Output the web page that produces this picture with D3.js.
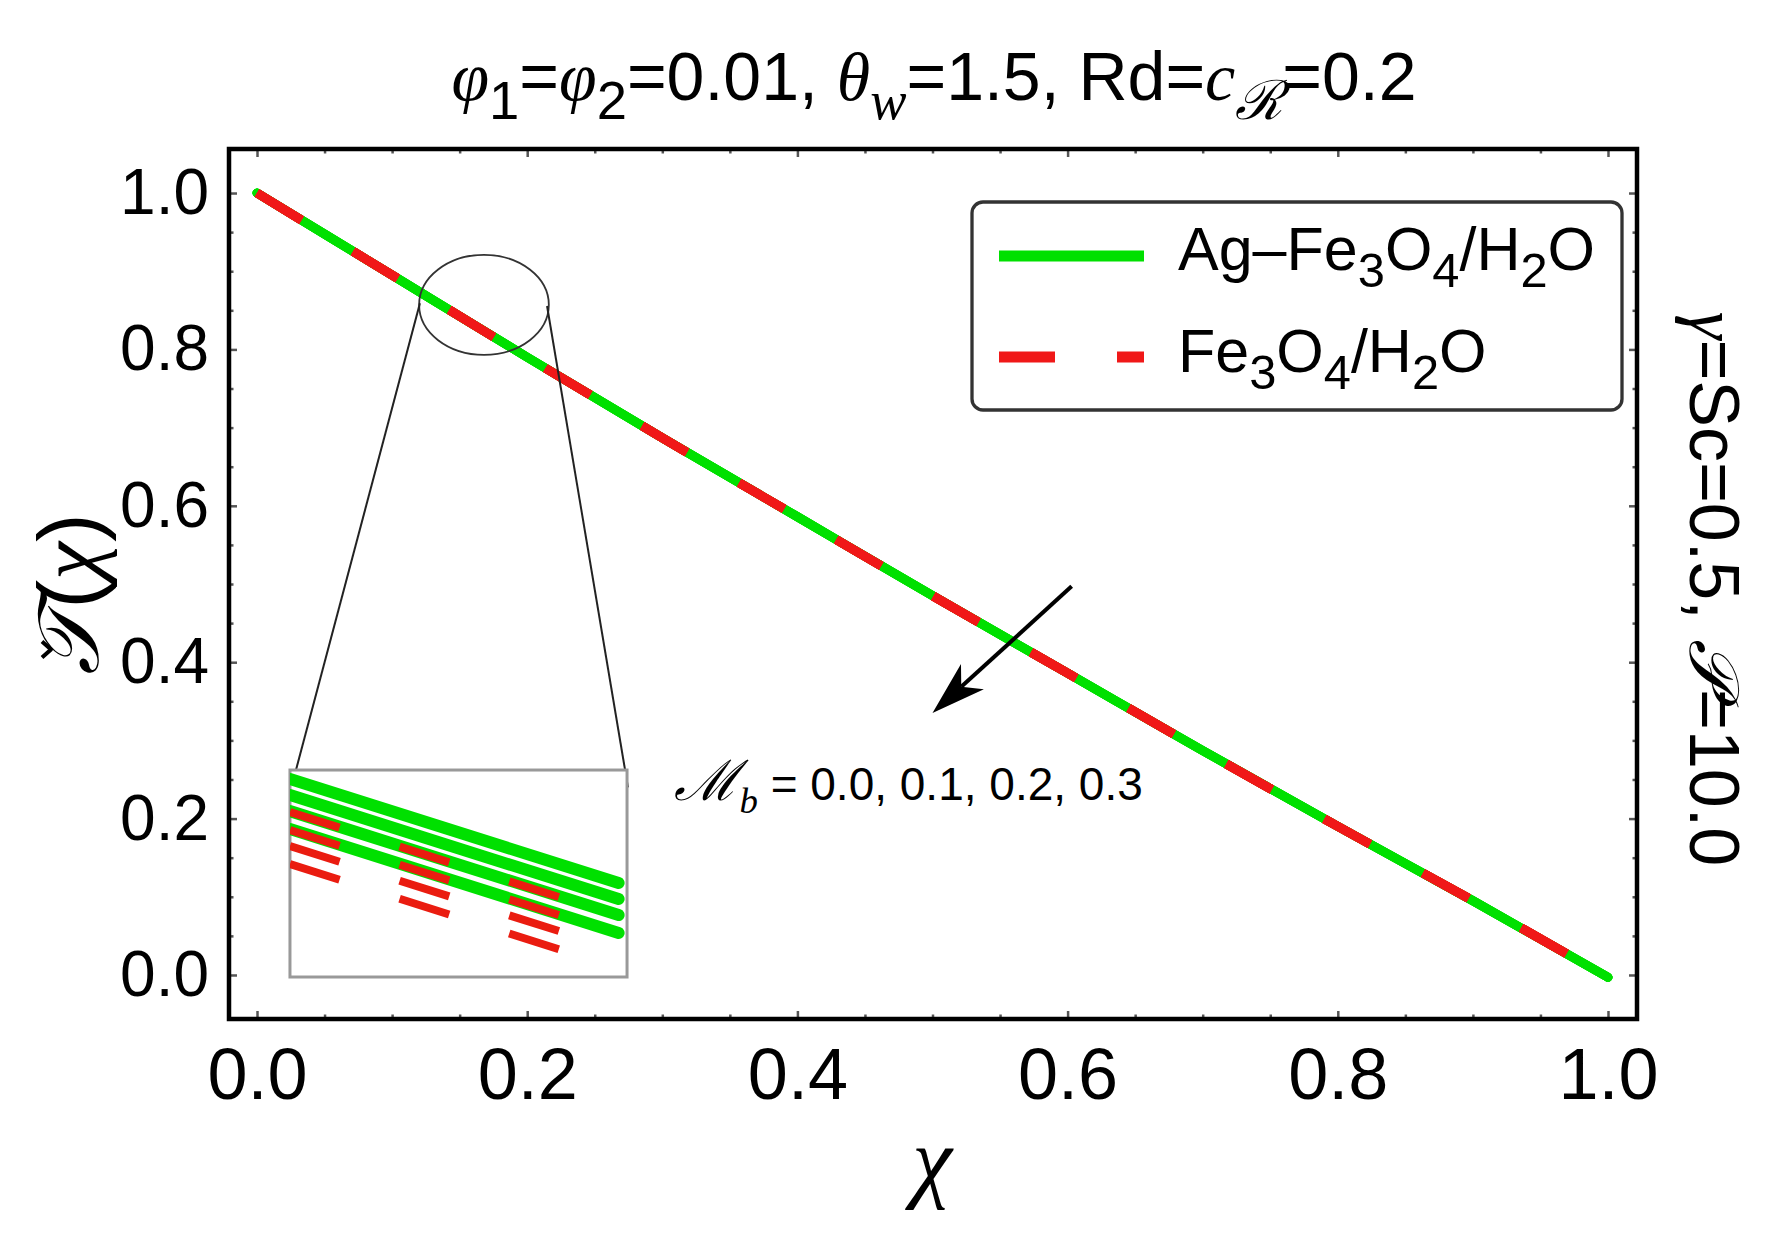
<!DOCTYPE html>
<html>
<head>
<meta charset="utf-8">
<script src="https://cdn.jsdelivr.net/npm/d3@7"></script>
<style>
  body { margin: 0; background: #fff; }
  svg text { font-family: "Liberation Sans", Arial, sans-serif; fill: #000; }
  .it { font-family: "Liberation Serif", "DejaVu Serif", serif; font-style: italic; }
</style>
</head>
<body>
<div id="chart"></div>
<script>
// ---- data ----
// all four M_b curves coincide at the scale of the main plot
const chi = [0, 0.1, 0.2, 0.3, 0.4, 0.5, 0.6, 0.7, 0.8, 0.9, 1.0];
const tempAgFe = [1.000, 0.895, 0.790, 0.687, 0.586, 0.485, 0.386, 0.287, 0.190, 0.095, -0.003];
const tempFe   = [1.000, 0.895, 0.790, 0.687, 0.586, 0.485, 0.386, 0.287, 0.190, 0.095, -0.003];
const mbValues = ["0.0", "0.1", "0.2", "0.3"];

// zoomed inset (one line per M_b value)
const insetChi = [0.14, 0.1985];
const insetAgFe = [[0.8648, 0.8045], [0.8555, 0.7952], [0.8462, 0.7859], [0.8358, 0.7755]];
const insetFe   = [[0.8457, 0.7854], [0.8352, 0.7750], [0.8259, 0.7657], [0.8155, 0.7551]];

const xMajor = [0, 0.2, 0.4, 0.6, 0.8, 1.0];
const yMajor = [0, 0.2, 0.4, 0.6, 0.8, 1.0];
const minorTicks = d3.range(0, 1.0001, 0.05).filter(v => Math.abs(v * 5 - Math.round(v * 5)) > 1e-6);

// ---- layout ----
const W = 1792, H = 1249;
const plot = { left: 229, right: 1637, top: 149, bottom: 1019 };
const GREEN = "#00e000", RED = "#f01818";
const FS = 61;

const x = d3.scaleLinear().domain([-0.02073, 1.02147]).range([plot.left, plot.right]);
const y = d3.scaleLinear().domain([-0.0563, 1.0563]).range([plot.bottom, plot.top]);

const svg = d3.select("#chart").append("svg")
    .attr("width", W).attr("height", H);

svg.append("defs").append("clipPath").attr("id", "clip")
  .append("rect")
    .attr("x", plot.left).attr("y", plot.top)
    .attr("width", plot.right - plot.left).attr("height", plot.bottom - plot.top);

// text with sub-scripts; parts = [{t, sub, it}]
function rich(sel, parts, size) {
    let shift = 0;
    parts.forEach(p => {
        const target = p.sub ? size * 0.28 : 0;
        const ts = sel.append("tspan").text(p.t).attr("dy", target - shift);
        shift = target;
        if (p.sub) ts.attr("font-size", size * 0.8);
        if (p.it) ts.attr("class", "it");
    });
}

// ---- ticks (inside, on all four sides) ----
const fmt = d3.format(".1f");
function styleAxis(size) {
    return g => {
        g.select(".domain").remove();
        g.attr("font-family", null).attr("font-size", size);
        g.selectAll(".tick line").attr("stroke", "#555").attr("stroke-width", 2.5);
        g.selectAll(".tick text").attr("fill", "#000");
    };
}

svg.append("g").attr("transform", `translate(0,${plot.bottom})`)
    .call(d3.axisBottom(x).tickValues(xMajor).tickSize(-8).tickPadding(29).tickFormat(fmt)).call(styleAxis(72));
svg.append("g").attr("transform", `translate(0,${plot.bottom})`)
    .call(d3.axisBottom(x).tickValues(minorTicks).tickSize(-4.5).tickFormat("")).call(styleAxis(72));
svg.append("g").attr("transform", `translate(0,${plot.top})`)
    .call(d3.axisTop(x).tickValues(xMajor).tickSize(-8).tickFormat("")).call(styleAxis(72));
svg.append("g").attr("transform", `translate(0,${plot.top})`)
    .call(d3.axisTop(x).tickValues(minorTicks).tickSize(-4.5).tickFormat("")).call(styleAxis(72));

svg.append("g").attr("transform", `translate(${plot.left},0)`)
    .call(d3.axisLeft(y).tickValues(yMajor).tickSize(-8).tickPadding(20).tickFormat(fmt)).call(styleAxis(64));
svg.append("g").attr("transform", `translate(${plot.left},0)`)
    .call(d3.axisLeft(y).tickValues(minorTicks).tickSize(-4.5).tickFormat("")).call(styleAxis(64));
svg.append("g").attr("transform", `translate(${plot.right},0)`)
    .call(d3.axisRight(y).tickValues(yMajor).tickSize(-8).tickFormat("")).call(styleAxis(64));
svg.append("g").attr("transform", `translate(${plot.right},0)`)
    .call(d3.axisRight(y).tickValues(minorTicks).tickSize(-4.5).tickFormat("")).call(styleAxis(64));

// ---- main curves ----
const line = d3.line().x(d => x(d[0])).y(d => y(d[1])).curve(d3.curveMonotoneX);
const curves = svg.append("g").attr("clip-path", "url(#clip)");

mbValues.forEach(() => {
    curves.append("path")
        .attr("d", line(d3.zip(chi, tempAgFe)))
        .attr("fill", "none").attr("stroke", GREEN)
        .attr("stroke-width", 9).attr("stroke-linecap", "round");
});
mbValues.forEach(() => {
    curves.append("path")
        .attr("d", line(d3.zip(chi, tempFe)))
        .attr("fill", "none").attr("stroke", RED)
        .attr("stroke-width", 9).attr("stroke-dasharray", "52,60.5");
});

// ---- callout ellipse + inset ----
const lens = { cx: 0.168, cy: 0.857, rx: 0.048, ry: 0.064 };
const box = { x0: 0.0244, x1: 0.2739, y0: -0.0026, y1: 0.2621 };

svg.append("ellipse")
    .attr("cx", x(lens.cx)).attr("cy", y(lens.cy))
    .attr("rx", x(lens.cx + lens.rx) - x(lens.cx))
    .attr("ry", y(lens.cy) - y(lens.cy + lens.ry))
    .attr("fill", "none").attr("stroke", "#333").attr("stroke-width", 1.8);

const calloutLines = [
    [[0.1206, 0.859], [0.0259, 0.243]],
    [[0.2147, 0.8555], [0.2746, 0.240]]
];
calloutLines.forEach(seg => {
    svg.append("line")
        .attr("x1", x(seg[0][0])).attr("y1", y(seg[0][1]))
        .attr("x2", x(seg[1][0])).attr("y2", y(seg[1][1]))
        .attr("stroke", "#222").attr("stroke-width", 2);
});

const ix = d3.scaleLinear().domain([0.14, 0.20]).range([x(box.x0), x(box.x1)]);
const iy = d3.scaleLinear().domain([0.75, 0.87]).range([y(box.y0), y(box.y1)]);

svg.append("defs").append("clipPath").attr("id", "clipInset")
  .append("rect")
    .attr("x", x(box.x0)).attr("y", y(box.y1))
    .attr("width", x(box.x1) - x(box.x0)).attr("height", y(box.y0) - y(box.y1));

svg.append("rect")
    .attr("x", x(box.x0)).attr("y", y(box.y1))
    .attr("width", x(box.x1) - x(box.x0)).attr("height", y(box.y0) - y(box.y1))
    .attr("fill", "#fff").attr("stroke", "#999").attr("stroke-width", 3);

const iline = d3.line().x(d => ix(d[0])).y(d => iy(d[1]));
const inset = svg.append("g").attr("clip-path", "url(#clipInset)");
insetAgFe.forEach(vals => {
    inset.append("path")
        .attr("d", iline(d3.zip(insetChi, vals)))
        .attr("fill", "none").attr("stroke", GREEN)
        .attr("stroke-width", 12).attr("stroke-linecap", "round");
});
insetFe.forEach(vals => {
    inset.append("path")
        .attr("d", iline(d3.zip(insetChi, vals)))
        .attr("fill", "none").attr("stroke", "#ea1c10")
        .attr("stroke-width", 8).attr("stroke-dasharray", "52,63");
});

// ---- arrow + M_b label ----
const arrow = { from: [0.603, 0.497], to: [0.500, 0.335] };
(function drawArrow() {
    const x0 = x(arrow.from[0]), y0 = y(arrow.from[1]);
    const x1 = x(arrow.to[0]), y1 = y(arrow.to[1]);
    const len = Math.hypot(x1 - x0, y1 - y0);
    const ux = (x1 - x0) / len, uy = (y1 - y0) / len;
    const nx = -uy, ny = ux;
    const L = 54, Wd = 17;
    const bx = x1 - L * ux, by = y1 - L * uy;
    const mx = x1 - 0.72 * L * ux, my = y1 - 0.72 * L * uy;
    svg.append("line")
        .attr("x1", x0).attr("y1", y0).attr("x2", mx).attr("y2", my)
        .attr("stroke", "#000").attr("stroke-width", 4);
    svg.append("path")
        .attr("d", `M${x1},${y1}L${bx + Wd * nx},${by + Wd * ny}L${mx},${my}L${bx - Wd * nx},${by - Wd * ny}Z`)
        .attr("fill", "#000");
})();

const mbLabel = svg.append("text")
    .attr("x", x(0.309)).attr("y", y(0.224))
    .attr("font-size", 46);
mbLabel.append("tspan").attr("class", "it").attr("font-size", 56).text("ℳ");
rich(mbLabel, [{ t: "b", sub: true, it: true }, { t: " = " + mbValues.join(", ") }], 46);

// ---- frame ----
svg.append("rect")
    .attr("x", plot.left).attr("y", plot.top)
    .attr("width", plot.right - plot.left).attr("height", plot.bottom - plot.top)
    .attr("fill", "none").attr("stroke", "#000").attr("stroke-width", 4.5);

// ---- legend ----
const legend = svg.append("g").attr("transform", "translate(972,202)");
legend.append("rect")
    .attr("width", 650).attr("height", 208).attr("rx", 11)
    .attr("fill", "#fff").attr("stroke", "#333").attr("stroke-width", 3.3);
legend.append("line").attr("x1", 27).attr("x2", 172).attr("y1", 54).attr("y2", 54)
    .attr("stroke", GREEN).attr("stroke-width", 11);
legend.append("line").attr("x1", 27).attr("x2", 172).attr("y1", 155).attr("y2", 155)
    .attr("stroke", RED).attr("stroke-width", 11).attr("stroke-dasharray", "56,62");
rich(legend.append("text").attr("x", 206).attr("y", 68).attr("font-size", FS),
    [{ t: "Ag–Fe" }, { t: "3", sub: true }, { t: "O" }, { t: "4", sub: true }, { t: "/H" }, { t: "2", sub: true }, { t: "O" }], FS);
rich(legend.append("text").attr("x", 206).attr("y", 170).attr("font-size", FS),
    [{ t: "Fe" }, { t: "3", sub: true }, { t: "O" }, { t: "4", sub: true }, { t: "/H" }, { t: "2", sub: true }, { t: "O" }], FS);

// ---- titles ----
rich(svg.append("text").attr("x", 934).attr("y", 100).attr("text-anchor", "middle").attr("font-size", 68),
    [{ t: "φ", it: true }, { t: "1", sub: true }, { t: "=" }, { t: "φ", it: true }, { t: "2", sub: true },
     { t: "=0.01, " }, { t: "θ", it: true }, { t: "w", sub: true, it: true }, { t: "=1.5, Rd=" },
     { t: "c", it: true }, { t: "ℛ", sub: true, it: true }, { t: "=0.2" }], 68);

svg.append("text").attr("class", "it")
    .attr("x", 932).attr("y", 1191).attr("text-anchor", "middle").attr("font-size", 90)
    .text("χ");

// y title: script T with caron, then (χ)
const yTitleG = svg.append("g").attr("transform", "translate(98,594) rotate(-90)");
const yTitle = yTitleG.append("text")
    .attr("text-anchor", "middle").attr("font-size", 86);
const tT = yTitle.append("tspan").attr("class", "it").text("𝒯");
yTitle.append("tspan").text("(");
yTitle.append("tspan").attr("class", "it").text("χ");
yTitle.append("tspan").text(")");
(function addCaron() {
    const total = yTitle.node().getComputedTextLength();
    const wT = tT.node().getComputedTextLength();
    const cx = -total / 2 + wT * 0.38, cy = -50;
    yTitleG.append("path")
        .attr("d", `M${cx - 8},${cy - 6}L${cx},${cy + 3}L${cx + 8},${cy - 6}`)
        .attr("fill", "none").attr("stroke", "#000").attr("stroke-width", 4)
        .attr("stroke-linejoin", "round");
})();

const rTitle = svg.append("text")
    .attr("transform", "translate(1690,589) rotate(90)")
    .attr("text-anchor", "middle").attr("font-size", 70);
rTitle.append("tspan").attr("class", "it").text("γ");
rTitle.append("tspan").text("=Sc=0.5, ");
rTitle.append("tspan").attr("class", "it").text("𝒫");
rTitle.append("tspan").text("=10.0");
</script>
</body>
</html>
